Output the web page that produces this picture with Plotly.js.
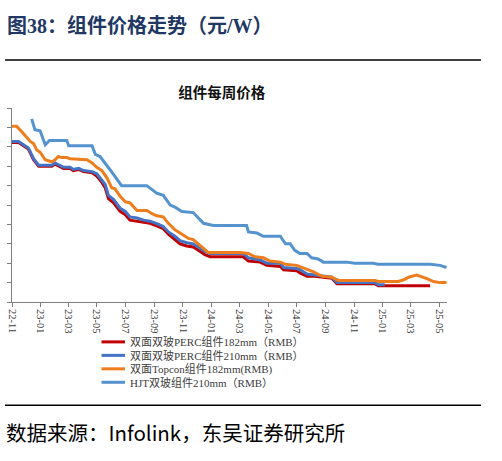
<!DOCTYPE html>
<html>
<head>
<meta charset="utf-8">
<script src="https://cdn.plot.ly/plotly-3.0.1.min.js"></script>
<style>
  html, body { margin: 0; padding: 0; background: #ffffff; }
  #chart { width: 502px; height: 461px; }
</style>
</head>
<body>
<div id="chart"></div>
<script>
// ---------------- data (RMB/W, weekly price turning points) ----------------
const figureTitle = '图38：组件价格走势（元/W）';
const chartTitle = '组件每周价格';
const sourceText = '数据来源：Infolink，东吴证券研究所';

const seriesNames = [
  '双面双玻PERC组件182mm（RMB）',
  '双面双玻PERC组件210mm（RMB）',
  '双面Topcon组件182mm(RMB)',
  'HJT双玻组件210mm（RMB）'
];

const perc182Dates = ['2022-11-01','2022-11-15','2022-12-06','2022-12-17','2022-12-28','2023-01-25','2023-02-01','2023-02-19','2023-03-05','2023-03-12','2023-03-23','2023-04-03','2023-04-21','2023-05-01','2023-05-12','2023-05-19','2023-05-26','2023-06-06','2023-06-20','2023-07-01','2023-07-11','2023-07-26','2023-08-09','2023-08-23','2023-09-10','2023-09-20','2023-10-01','2023-10-15','2023-10-26','2023-11-09','2023-11-23','2023-12-04','2023-12-18','2023-12-29','2024-03-09','2024-03-20','2024-04-14','2024-04-28','2024-05-27','2024-06-03','2024-07-01','2024-07-08','2024-07-23','2024-08-09','2024-09-14','2024-09-25','2024-12-15','2024-12-22','2025-04-12'];
const perc182Vals  = [1.98,1.98,1.92,1.82,1.76,1.76,1.78,1.74,1.74,1.72,1.73,1.71,1.70,1.67,1.61,1.56,1.46,1.42,1.34,1.31,1.26,1.25,1.24,1.23,1.20,1.18,1.13,1.08,1.04,1.02,1.01,0.98,0.94,0.92,0.92,0.88,0.87,0.84,0.83,0.80,0.79,0.77,0.74,0.74,0.72,0.67,0.67,0.65,0.65];

const perc210Dates = ['2022-11-01','2022-11-15','2022-12-06','2022-12-17','2022-12-28','2023-01-25','2023-02-01','2023-02-19','2023-03-05','2023-03-12','2023-03-23','2023-04-03','2023-04-21','2023-05-01','2023-05-12','2023-05-19','2023-05-26','2023-06-06','2023-06-20','2023-07-01','2023-07-11','2023-07-26','2023-08-09','2023-08-23','2023-09-10','2023-09-20','2023-10-01','2023-10-15','2023-10-26','2023-11-09','2023-11-23','2023-12-04','2023-12-18','2023-12-29','2024-03-09','2024-03-20','2024-04-14','2024-04-28','2024-05-27','2024-06-03','2024-07-01','2024-07-08','2024-07-23','2024-08-09','2024-09-14','2024-09-25','2024-12-15','2024-12-22','2025-01-05'];
const perc210Vals  = [1.99,1.99,1.93,1.83,1.77,1.77,1.79,1.75,1.75,1.73,1.74,1.72,1.71,1.69,1.63,1.59,1.49,1.45,1.37,1.34,1.29,1.28,1.26,1.25,1.22,1.20,1.15,1.11,1.07,1.05,1.04,1.01,0.97,0.95,0.95,0.91,0.89,0.86,0.86,0.82,0.81,0.80,0.76,0.75,0.73,0.68,0.68,0.66,0.66];

const topconDates = ['2022-11-01','2022-11-11','2022-11-22','2022-12-03','2022-12-10','2022-12-17','2022-12-24','2022-12-31','2023-01-11','2023-01-25','2023-02-01','2023-02-08','2023-02-15','2023-02-26','2023-03-05','2023-04-10','2023-04-21','2023-05-01','2023-05-12','2023-05-23','2023-06-02','2023-06-09','2023-06-20','2023-07-01','2023-07-11','2023-07-26','2023-08-16','2023-08-27','2023-09-06','2023-09-20','2023-10-01','2023-10-15','2023-10-30','2023-11-13','2023-11-23','2023-12-04','2023-12-15','2023-12-25','2024-03-02','2024-03-20','2024-04-03','2024-04-21','2024-05-05','2024-05-27','2024-06-07','2024-07-01','2024-07-19','2024-08-06','2024-08-23','2024-09-14','2024-09-28','2024-12-15','2024-12-22','2025-02-03','2025-02-17','2025-02-25','2025-03-14','2025-03-28','2025-04-04','2025-04-19','2025-05-03','2025-05-17'];
const topconVals  = [2.13,2.13,2.08,2.03,1.99,1.97,1.91,1.89,1.82,1.80,1.82,1.85,1.84,1.84,1.83,1.82,1.79,1.75,1.72,1.65,1.56,1.55,1.48,1.43,1.42,1.35,1.35,1.32,1.30,1.29,1.23,1.17,1.13,1.09,1.08,1.04,1.00,0.96,0.96,0.95,0.92,0.91,0.88,0.87,0.85,0.84,0.81,0.78,0.74,0.73,0.70,0.70,0.69,0.69,0.71,0.73,0.75,0.73,0.72,0.69,0.68,0.68];

const hjtDates = ['2022-12-13','2022-12-20','2022-12-31','2023-01-11','2023-01-20','2023-02-26','2023-03-02','2023-04-21','2023-04-28','2023-05-08','2023-05-29','2023-06-09','2023-06-23','2023-08-16','2023-09-06','2023-09-20','2023-10-05','2023-10-15','2023-10-30','2023-11-23','2023-12-15','2024-01-05','2024-03-16','2024-03-20','2024-04-07','2024-04-21','2024-05-27','2024-06-07','2024-06-17','2024-06-27','2024-07-08','2024-07-23','2024-08-02','2024-08-16','2024-08-27','2024-10-16','2024-11-02','2024-12-11','2024-12-22','2025-04-12','2025-05-03','2025-05-17'];
const hjtVals  = [2.20,2.10,2.09,1.96,2.00,2.00,1.95,1.95,1.87,1.85,1.73,1.66,1.58,1.58,1.51,1.49,1.40,1.38,1.34,1.33,1.23,1.21,1.21,1.15,1.14,1.11,1.11,1.04,1.04,0.98,0.95,0.95,0.91,0.90,0.87,0.87,0.86,0.86,0.85,0.85,0.84,0.82];

const seriesColors = ['#C00000', '#4472C4', '#EE7D1E', '#5593CF'];

// ---------------- layout geometry ----------------
const W = 502, H = 461;
const M = { l: 12, r: 55, t: 108, b: 158.5 };
const PW = W - M.l - M.r, PH = H - M.t - M.b;
const px2x = px => (px - M.l) / PW;
const px2y = py => (H - M.b - py) / PH;

const traces = [
  { x: perc182Dates, y: perc182Vals },
  { x: perc210Dates, y: perc210Vals },
  { x: topconDates,  y: topconVals },
  { x: hjtDates,     y: hjtVals }
].map((d, i) => ({
  type: 'scatter', mode: 'lines', name: seriesNames[i],
  x: d.x, y: d.y,
  line: { color: seriesColors[i], width: 3 },
  showlegend: false, hoverinfo: 'x+y+name'
}));

const serifCJK = "'Liberation Serif', 'Noto Sans CJK SC', serif";

const shapes = [
  { type: 'line', xref: 'paper', yref: 'paper', x0: px2x(5), x1: px2x(481), y0: px2y(60), y1: px2y(60), line: { color: '#000000', width: 1.5 } },
  { type: 'line', xref: 'paper', yref: 'paper', x0: px2x(5), x1: px2x(481), y0: px2y(406), y1: px2y(406), line: { color: '#000000', width: 1.5 } }
];
const annotations = [
  { text: '<b>' + figureTitle + '</b>', xref: 'paper', yref: 'paper', x: px2x(5), y: px2y(26), xanchor: 'left', yanchor: 'middle', showarrow: false, font: { family: serifCJK, size: 20, color: '#1F3864' } },
  { text: sourceText, xref: 'paper', yref: 'paper', x: px2x(4), y: px2y(433), xanchor: 'left', yanchor: 'middle', showarrow: false, font: { family: "'Noto Sans CJK SC', 'Liberation Sans', sans-serif", size: 20.5, color: '#000000' } }
];
// custom compact legend built from the series names
const legendRowY = [342.5, 356, 369.5, 383];
seriesNames.forEach((name, i) => {
  shapes.push({ type: 'line', xref: 'paper', yref: 'paper', x0: px2x(101.5), x1: px2x(125), y0: px2y(legendRowY[i]), y1: px2y(legendRowY[i]), line: { color: seriesColors[i], width: 3 } });
  annotations.push({ text: name, xref: 'paper', yref: 'paper', x: px2x(127.5), y: px2y(legendRowY[i]), xanchor: 'left', yanchor: 'middle', showarrow: false, font: { family: serifCJK, size: 11, color: '#404040' } });
});

const layout = {
  width: W, height: H,
  margin: M,
  paper_bgcolor: '#ffffff', plot_bgcolor: '#ffffff',
  title: {
    text: '<b>' + chartTitle + '</b>',
    xref: 'container', yref: 'container',
    x: 221.7 / W, y: 1 - 93 / H, xanchor: 'center', yanchor: 'middle',
    font: { family: "'Noto Sans CJK SC', sans-serif", size: 14.5, color: '#111111' }
  },
  xaxis: {
    type: 'date',
    range: ['2022-11-01', '2025-05-18'],
    tick0: '2022-11-01', dtick: 'M2', tickformat: '%y-%m',
    tickangle: 90,
    ticks: 'outside', ticklen: 4, tickcolor: '#7f7f7f', tickwidth: 1,
    showline: true, linecolor: '#7f7f7f', linewidth: 1,
    showgrid: false, zeroline: false,
    tickfont: { family: "'Liberation Serif', serif", size: 10.5, color: '#404040' },
    fixedrange: true
  },
  yaxis: {
    range: [0.5, 2.3005],
    tick0: 0.5, dtick: 0.18,
    ticks: 'outside', ticklen: 4, tickcolor: '#7f7f7f', tickwidth: 1,
    showticklabels: false,
    showline: true, linecolor: '#7f7f7f', linewidth: 1,
    showgrid: false, zeroline: false,
    fixedrange: true
  },
  shapes: shapes,
  annotations: annotations,
  showlegend: false
};

Plotly.newPlot('chart', traces, layout, { displayModeBar: false, staticPlot: true });
</script>
</body>
</html>
